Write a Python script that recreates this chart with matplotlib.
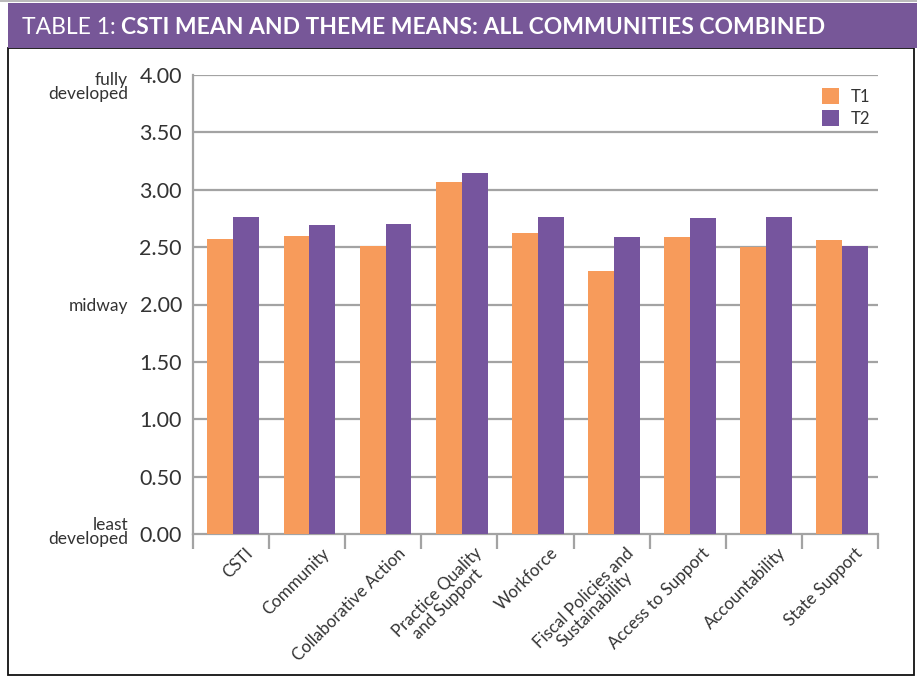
import matplotlib
matplotlib.use("Agg")
import matplotlib.pyplot as plt
from matplotlib.patches import Rectangle
import numpy as np

categories = ["CSTI", "Community", "Collaborative Action", "Practice Quality\nand Support",
              "Workforce", "Fiscal Policies and\nSustainability", "Access to Support",
              "Accountability", "State Support"]
t1 = [2.57, 2.60, 2.51, 3.07, 2.62, 2.29, 2.59, 2.50, 2.56]
t2 = [2.76, 2.69, 2.70, 3.15, 2.76, 2.59, 2.75, 2.76, 2.51]
series_names = ["T1", "T2"]
yticks = [0.0, 0.5, 1.0, 1.5, 2.0, 2.5, 3.0, 3.5, 4.0]

ORANGE = "#F79B5B"
PURPLE = "#76559E"
GRID = "#A3A3A3"
TEXT = "#333333"
FONT = "Lato"

W, H = 917, 677
fig = plt.figure(figsize=(W / 100, H / 100), dpi=100)

def fx(px):
    return px / W

def fy(py):
    return 1 - py / H

# frame
fig.patches.append(Rectangle((fx(8), fy(675)), fx(906) - fx(0), fy(48) - fy(675),
                             transform=fig.transFigure, fill=False, edgecolor="#111111", lw=1.3))
# top thin gray line
fig.patches.append(Rectangle((fx(0), fy(2)), 1, fy(0) - fy(2), transform=fig.transFigure,
                             facecolor="#BBBBBB", edgecolor="none"))
# banner
fig.patches.append(Rectangle((fx(8), fy(48)), 1 - fx(8), fy(3) - fy(48), transform=fig.transFigure,
                             facecolor="#775798", edgecolor="none"))

ax = fig.add_axes([fx(193), fy(534), fx(878) - fx(193), fy(75) - fy(534)])
x = np.arange(len(categories))
bw = 0.34
ax.bar(x - bw / 2 + 0.03, t1, width=bw, color=ORANGE, label=series_names[0], zorder=3)
ax.bar(x + bw / 2 + 0.03, t2, width=bw, color=PURPLE, label=series_names[1], zorder=3)

ax.set_xlim(-0.5, len(categories) - 0.5)
ax.set_ylim(0, 4.0)
ax.set_yticks(yticks)
ax.set_yticklabels([f"{v:.2f}" for v in yticks], fontsize=15.5, color=TEXT, family=FONT)
ax.tick_params(axis="y", length=0, pad=8)
for v in yticks[1:]:
    ax.axhline(v, color=GRID, lw=1.6, zorder=1)

ax.set_xticks(np.arange(-0.5, len(categories), 1.0))
ax.set_xticklabels([])
ax.tick_params(axis="x", length=11, width=1.6, color=GRID, direction="out")
ax.set_xticks(x, minor=True)
ax.set_xticklabels(categories, minor=True, rotation=45, ha="right", rotation_mode="anchor",
                   fontsize=12.2, color=TEXT, family=FONT, multialignment="center",
                   linespacing=0.95)
ax.tick_params(axis="x", which="minor", length=0, pad=8)
for lbl in ax.get_xticklabels(minor=True):
    lbl.set_transform(lbl.get_transform() + matplotlib.transforms.ScaledTranslation(14 / 100, 0, fig.dpi_scale_trans))

for s in ["top", "right"]:
    ax.spines[s].set_visible(False)
for s in ["left", "bottom"]:
    ax.spines[s].set_color(GRID)
    ax.spines[s].set_linewidth(1.6)

leg = ax.legend(loc="upper right", bbox_to_anchor=(1.01, 1.005), frameon=False,
                handlelength=1.0, handleheight=1.15, handletextpad=0.7, labelspacing=0.3,
                prop={"family": FONT, "size": 12})
for t in leg.get_texts():
    t.set_color(TEXT)

# side labels
fig.text(fx(128), fy(87), "fully\ndeveloped", ha="right", va="center", fontsize=12.5, color=TEXT,
         family=FONT, linespacing=0.9)
fig.text(fx(128), fy(306), "midway", ha="right", va="center", fontsize=12.5, color=TEXT, family=FONT)
fig.text(fx(128), fy(532), "least\ndeveloped", ha="right", va="center", fontsize=12.5, color=TEXT,
         family=FONT, linespacing=0.9)

# title
t_a = fig.text(fx(22), fy(28), "TABLE 1: ", ha="left", va="center", fontsize=16.5, color="white",
               family=FONT)
fig.canvas.draw()
bb = t_a.get_window_extent()
t_b = fig.text(bb.x1 / W, fy(28), "CSTI MEAN AND THEME MEANS: ALL COMMUNITIES COMBINED",
               ha="left", va="center", fontsize=16.5, color="white", family=FONT, fontweight="bold")

fig.savefig("out.png", dpi=100)
